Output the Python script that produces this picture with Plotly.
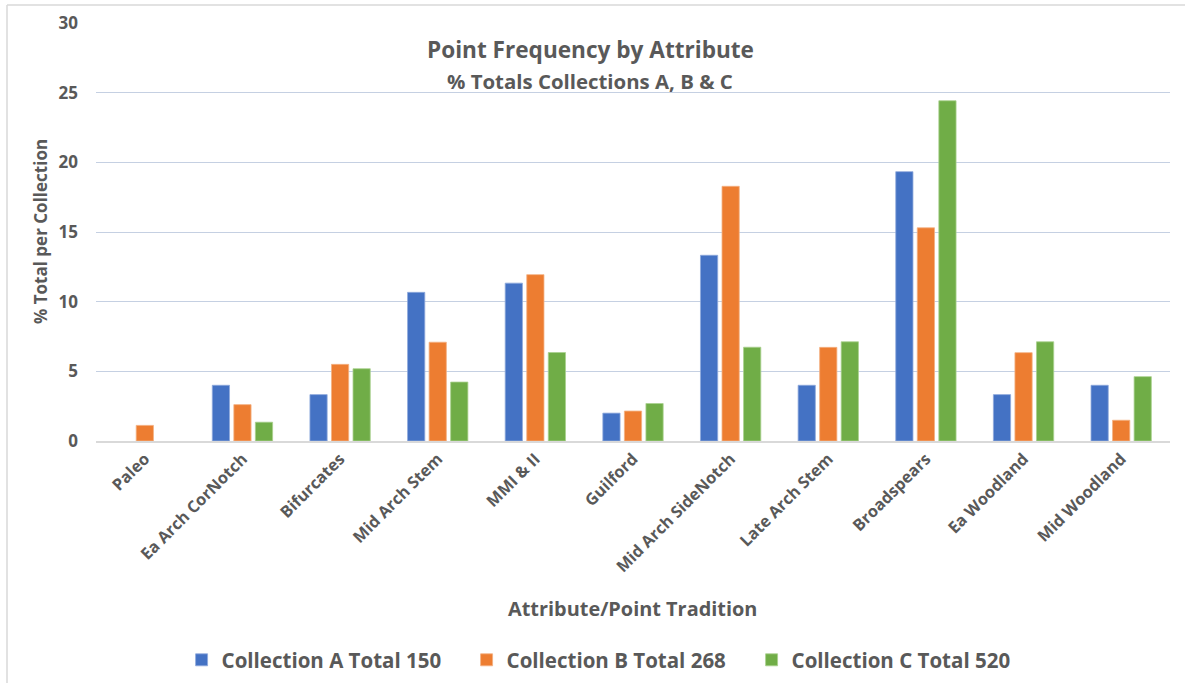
import plotly.graph_objects as go

categories = ["Paleo", "Ea Arch CorNotch", "Bifurcates", "Mid Arch Stem", "MMI & II",
              "Guilford", "Mid Arch SideNotch", "Late Arch Stem", "Broadspears",
              "Ea Woodland", "Mid Woodland"]
collection_a = [None, 4.0, 3.33, 10.67, 11.33, 2.0, 13.33, 4.0, 19.33, 3.33, 4.0]
collection_b = [1.12, 2.61, 5.5, 7.09, 11.94, 2.15, 18.28, 6.72, 15.3, 6.34, 1.49]
collection_c = [None, 1.35, 5.19, 4.23, 6.35, 2.69, 6.73, 7.12, 24.42, 7.12, 4.62]
series_names = ["Collection A Total 150", "Collection B Total 268", "Collection C Total 520"]
y_ticks = [0, 5, 10, 15, 20, 25, 30]

FONT = "Open Sans"
GREY = "#595959"

W, H = 1185, 683
L, R, T, B = 96, 15, 23, 242
PW, PH = W - L - R, H - T - B


def px(x):
    return (x - L) / PW


def py(y):
    return (H - B - y) / PH


fig = go.Figure()
colors = ["#4472C4", "#ED7D31", "#70AD47"]
edges = ["#8FAADC", "#F4B183", "#A9D18E"]
for name, vals, c, e in zip(series_names, [collection_a, collection_b, collection_c], colors, edges):
    fig.add_trace(go.Bar(x=categories, y=vals, name=name,
                         marker=dict(color=c, line=dict(color=e, width=0.8))))

fig.update_layout(
    width=W, height=H,
    margin=dict(l=L, r=R, t=T, b=B),
    paper_bgcolor="white", plot_bgcolor="white",
    barmode="group", bargap=0.338, bargroupgap=0.2,
    font=dict(family=FONT, color=GREY),
    showlegend=True,
    legend=dict(orientation="h", xref="container", yref="container",
                x=0.514, xanchor="center", y=1 - 660 / H, yanchor="middle",
                font=dict(size=20.5, family=FONT, color=GREY, weight="bold"),
                itemwidth=30, entrywidth=240, entrywidthmode="pixels",
                traceorder="normal"),
)
fig.update_xaxes(
    showgrid=False, showline=True, linecolor="#D9D9D9", linewidth=2,
    tickangle=-45, ticks="",
    tickfont=dict(size=16.3, family=FONT, color=GREY, weight="bold"),
    fixedrange=True,
)
fig.update_yaxes(
    range=[0, 30], tickvals=y_ticks, showgrid=True, gridcolor="#C5D0E2", gridwidth=1,
    zeroline=False, showline=False, ticks="",
    tickfont=dict(size=17, family=FONT, color=GREY, weight="bold"),
    ticklabelstandoff=17, fixedrange=True,
)

annos = [
    dict(text="Point Frequency by Attribute", x=px(590), y=py(50), size=22.6),
    dict(text="% Totals Collections A, B & C", x=px(590), y=py(81), size=20.4),
    dict(text="Attribute/Point Tradition", x=px(632), y=py(608), size=19.9),
]
for a in annos:
    fig.add_annotation(text=a["text"], xref="paper", yref="paper", x=a["x"], y=a["y"],
                       xanchor="center", yanchor="middle", showarrow=False,
                       font=dict(size=a["size"], family=FONT, color=GREY, weight="bold"))
fig.add_annotation(text="% Total per Collection", xref="paper", yref="paper",
                   x=px(40), y=py(232), xanchor="center", yanchor="middle",
                   textangle=-90, showarrow=False,
                   font=dict(size=17, family=FONT, color=GREY, weight="bold"))

# outer chart frame (top and left edges visible)
fig.add_shape(type="line", xref="paper", yref="paper", x0=px(7), x1=px(W + 5), y0=py(5), y1=py(5),
              line=dict(color="#D9D9D9", width=1.5))
fig.add_shape(type="line", xref="paper", yref="paper", x0=px(7), x1=px(7), y0=py(5), y1=py(H + 5),
              line=dict(color="#D9D9D9", width=1.5))

fig.write_html("out.html", config={"displayModeBar": False},
               post_script="document.body.style.margin='0';")
